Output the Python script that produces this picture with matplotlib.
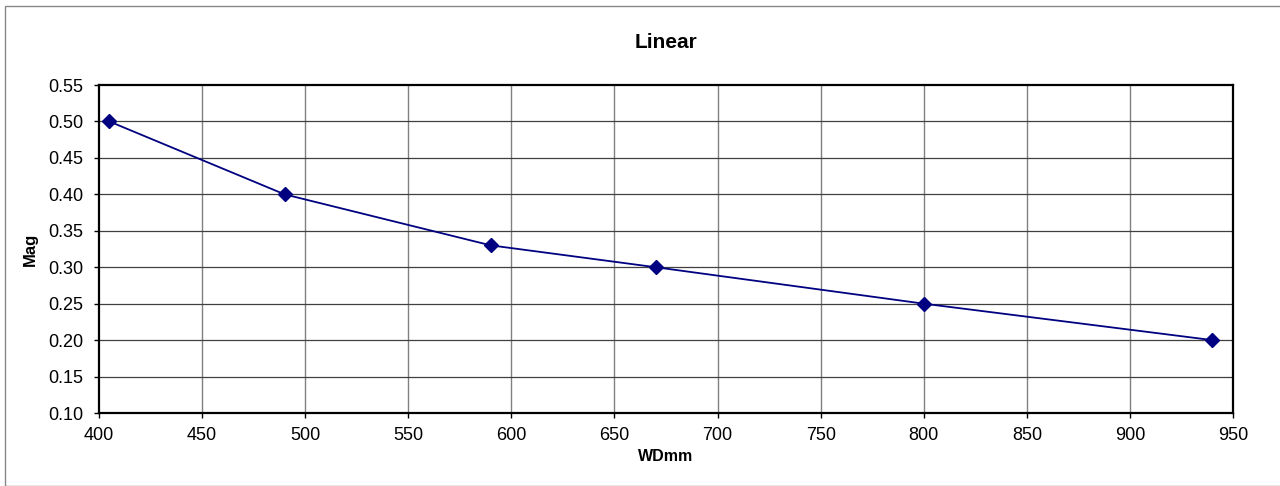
import matplotlib.pyplot as plt
from matplotlib.patches import Rectangle

plt.rcParams['font.family'] = ['Liberation Sans', 'DejaVu Sans']

# data
wd_mm = [405, 490, 590, 670, 800, 940]
mag = [0.50, 0.40, 0.33, 0.30, 0.25, 0.20]

x_ticks = list(range(400, 951, 50))
y_ticks = [0.10, 0.15, 0.20, 0.25, 0.30, 0.35, 0.40, 0.45, 0.50, 0.55]

W, H = 1280, 486
fig = plt.figure(figsize=(W / 100, H / 100), dpi=100)

# outer chart border (clipped at the right/bottom like the reference)
fig.patches.append(Rectangle((5 / W, 0), 2, 1 - 6 / H, transform=fig.transFigure,
                             fill=False, edgecolor='#888888', linewidth=1))

ax = fig.add_axes([99 / W, 1 - 413 / H, (1233 - 99) / W, (413 - 85) / H])

ax.plot(wd_mm, mag, color='#000080', linewidth=1.3, marker='D', markersize=7.5,
        markerfacecolor='#000080', markeredgecolor='#000080', zorder=3)

ax.set_xlim(400, 950)
ax.set_ylim(0.10, 0.55)
ax.set_xticks(x_ticks)
ax.set_yticks(y_ticks)
ax.set_yticklabels([f"{v:.2f}" for v in y_ticks])

for x in x_ticks[1:-1]:
    ax.axvline(x, color='#808080', linewidth=1, zorder=1)
for y in y_ticks[1:-1]:
    ax.axhline(y, color='#404040', linewidth=0.9, zorder=1)

for s in ax.spines.values():
    s.set_color('black')
    s.set_linewidth(1.6)

ax.tick_params(axis='both', direction='out', length=3.6, width=1, colors='black',
               labelsize=13)
ax.tick_params(axis='y', pad=8)
ax.tick_params(axis='x', pad=6.5)

ax.set_title('Linear', fontsize=15, fontweight='bold', pad=27)
ax.set_xlabel('WDmm', fontsize=11.5, fontweight='bold', labelpad=3.5)
ax.set_ylabel('Mag', fontsize=12, fontweight='bold', labelpad=7)

fig.savefig('out.png', dpi=100)
